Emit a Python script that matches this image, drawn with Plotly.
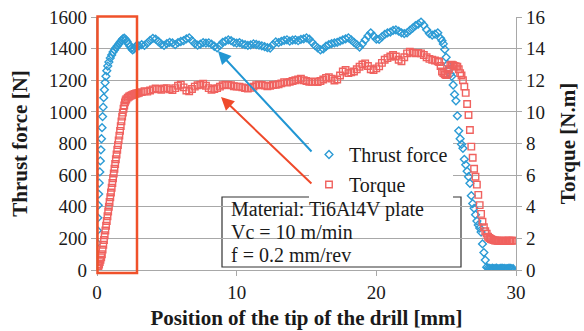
import plotly.graph_objects as go

# ---------------- data ----------------
# Thrust force [N] vs position [mm]
thrust_start_pos = [0, 0.03, 0.06, 0.09, 0.12, 0.16, 0.2, 0.24, 0.28, 0.32, 0.36, 0.4, 0.44, 0.48,
                    0.53, 0.58, 0.64, 0.7, 0.77, 0.85, 0.95, 1.05, 1.15, 1.25, 1.35, 1.45, 1.55,
                    1.65, 1.75, 1.85, 1.95, 2.05, 2.15, 2.25, 2.35, 2.45, 2.55, 2.65, 2.75, 2.85]
thrust_start = [170, 250, 330, 410, 480, 550, 620, 690, 760, 830, 900, 970, 1030, 1090,
                1140, 1185, 1225, 1260, 1290, 1315, 1340, 1360, 1378, 1392, 1405, 1417, 1428,
                1440, 1452, 1462, 1466, 1458, 1445, 1430, 1416, 1402, 1392, 1398, 1410, 1420]
# 3.0 .. 24.6 mm, every 0.2 mm
thrust_mid = [1418, 1425, 1420, 1435, 1452, 1465, 1460, 1445, 1428, 1420,
              1432, 1440, 1436, 1425, 1438, 1445, 1450, 1462, 1468, 1450,
              1432, 1422, 1428, 1438, 1435, 1437, 1428, 1415, 1405, 1420,
              1440, 1448, 1455, 1450, 1440, 1435, 1438, 1430, 1425, 1420,
              1424, 1430, 1426, 1422, 1418, 1412, 1406, 1404, 1425, 1442,
              1438, 1446, 1452, 1456, 1448, 1454, 1456, 1450, 1458, 1462,
              1468, 1460, 1440, 1420, 1405, 1392, 1398, 1415, 1425, 1432,
              1436, 1440, 1448, 1455, 1462, 1468, 1455, 1440, 1425, 1410,
              1430, 1455, 1480, 1500, 1480, 1460, 1458, 1475, 1490, 1500,
              1505, 1515, 1518, 1510, 1500, 1495, 1500, 1515, 1530, 1545,
              1555, 1568, 1548, 1520, 1495, 1486, 1492, 1500, 1465]
# 24.7 .. 29.8 mm, every 0.1 mm
thrust_end = [1450, 1430, 1395, 1345, 1300, 1265, 1240, 1225, 1170, 1110,
              1070, 975, 880, 830, 795, 770, 700, 665, 625, 590,
              548, 470, 420, 390, 350, 310, 285, 265, 240, 165,
              110, 63, 18, 12, 10, 9, 11, 8, 10, 12,
              9, 8, 10, 11, 9, 10, 8, 9, 11, 10, 9, 8]

# Torque [N.m] vs position [mm]
torque_start_pos = [0, 0.05, 0.1, 0.15, 0.2, 0.25, 0.3, 0.35, 0.4, 0.45, 0.5, 0.55, 0.6, 0.65,
                    0.7, 0.75, 0.8, 0.85, 0.9, 0.95, 1.0, 1.05, 1.1, 1.15, 1.2, 1.25, 1.3,
                    1.35, 1.4, 1.45, 1.5, 1.55, 1.6, 1.65, 1.7, 1.75, 1.8, 1.85, 1.9, 1.95,
                    2.0, 2.05, 2.1, 2.2, 2.3, 2.4, 2.5, 2.6, 2.7, 2.8, 2.9]
torque_start = [0.1, 0.15, 0.25, 0.35, 0.5, 0.65, 0.8, 1.0, 1.3, 1.6, 1.9, 2.2, 2.5, 2.8,
                3.1, 3.4, 3.7, 4.0, 4.3, 4.6, 4.9, 5.2, 5.5, 5.8, 6.1, 6.4, 6.7,
                7.0, 7.3, 7.6, 7.9, 8.2, 8.5, 8.8, 9.1, 9.4, 9.7, 9.95, 10.2, 10.4,
                10.6, 10.72, 10.8, 10.9, 10.97, 11.02, 11.06, 11.1, 11.13, 11.16, 11.18]
# 3.0 .. 24.4 mm, every 0.2 mm
torque_mid = [11.2, 11.25, 11.3, 11.28, 11.35, 11.42, 11.48, 11.45, 11.4, 11.48,
              11.5, 11.42, 11.38, 11.5, 11.65, 11.72, 11.55, 11.35, 11.3, 11.45,
              11.6, 11.68, 11.72, 11.78, 11.65, 11.5, 11.4, 11.45, 11.5, 11.6,
              11.68, 11.72, 11.7, 11.68, 11.62, 11.6, 11.6, 11.55, 11.5, 11.48,
              11.52, 11.6, 11.68, 11.72, 11.7, 11.66, 11.62, 11.65, 11.7, 11.72,
              11.75, 11.8, 11.88, 11.85, 11.9, 11.95, 12.0, 12.05, 12.1, 12.0,
              11.95, 11.9, 11.9, 11.92, 11.88, 11.95, 12.05, 12.15, 12.2, 12.1,
              11.98, 12.05, 12.3, 12.55, 12.65, 12.45, 12.5, 12.55, 12.7, 12.85,
              13.0, 13.07, 12.9, 12.7, 12.65, 12.75, 12.88, 13.1, 13.3, 13.4,
              13.5, 13.6, 13.5, 13.3, 13.2, 13.45, 13.7, 13.8, 13.75, 13.7,
              13.72, 13.7, 13.6, 13.45, 13.35, 13.3, 13.25, 13.2]
# 24.5 .. 29.8 mm, every 0.1 mm
torque_end = [13.15, 12.9, 12.55, 12.45, 12.38, 12.33, 12.4, 12.7, 12.95, 12.98,
              12.95, 12.9, 12.88, 12.86, 12.7, 12.45, 12.3, 12.0, 11.6, 11.2,
              10.5, 9.8, 8.85, 7.8, 7.1, 6.4, 5.9, 5.4, 4.75, 4.1,
              3.55, 3.05, 2.7, 2.45, 2.3, 2.1, 2.02, 1.96, 1.92, 1.89,
              1.87, 1.86, 1.85, 1.85, 1.84, 1.85, 1.85, 1.84, 1.85, 1.85,
              1.86, 1.85, 1.85, 1.86]

x_ticks = [0, 10, 20, 30]
info_lines = ["Material: Ti6Al4V plate", "Vc = 10 m/min", "f = 0.2 mm/rev"]

# ---------------- assemble ----------------
def grid(start, step, n):
    return [round(start + step * i, 2) for i in range(n)]

thrust_x = thrust_start_pos + grid(3.0, 0.2, len(thrust_mid)) + grid(24.7, 0.1, len(thrust_end))
thrust_y = thrust_start + thrust_mid + thrust_end
torque_x = torque_start_pos + grid(3.0, 0.2, len(torque_mid)) + grid(24.5, 0.1, len(torque_end))
torque_y = torque_start + torque_mid + torque_end

FONT = "Liberation Serif"
BLUE = "#2c9bd5"
RED = "#f0625f"
GRID = "#a8a8a8"
TXT = "#1a1a1a"

# plot area in pixels (for paper-coordinate decorations)
PL, PR, PT, PB = 97, 516, 17, 270
def px(xp):
    return (xp - PL) / (PR - PL)
def py(yp):
    return (PB - yp) / (PB - PT)

fig = go.Figure()
fig.add_trace(go.Scatter(
    x=thrust_x, y=thrust_y, mode="markers", name="Thrust force",
    marker=dict(symbol="diamond-open", size=6, color=BLUE, line=dict(width=1.4, color=BLUE)),
    legendgroup="a"))
fig.add_trace(go.Scatter(
    x=torque_x, y=torque_y, mode="markers", name="Torque", yaxis="y2",
    marker=dict(symbol="square-open", size=6.5, color=RED, line=dict(width=1.4, color=RED)),
    legendgroup="b"))

# red frame around the entry zone
fig.add_shape(type="rect", xref="paper", yref="paper", x0=px(97.5), x1=px(137), y0=py(273), y1=py(16.5),
              line=dict(color="#f0512a", width=2.5), layer="above")

# info box
fig.add_shape(type="rect", xref="paper", yref="paper",
              x0=px(222), x1=px(461), y0=py(267), y1=py(197),
              line=dict(color="#333333", width=1.2), fillcolor="white", layer="between")
for i, line in enumerate(info_lines):
    fig.add_annotation(xref="paper", yref="paper", x=px(229),
                       y=py(209 + 23 * i), xanchor="left", yanchor="middle",
                       text=line, showarrow=False, font=dict(family=FONT, size=20, color=TXT))

# arrows
fig.add_annotation(x=8.66, y=1385, ax=15.46, ay=740, xref="x", yref="y", axref="x", ayref="y",
                   showarrow=True, arrowhead=2, arrowsize=1.3, arrowwidth=2, arrowcolor="#2196d3", text="")
fig.add_annotation(x=8.88, y=1094, ax=15.46, ay=538, xref="x", yref="y", axref="x", ayref="y",
                   showarrow=True, arrowhead=2, arrowsize=1.3, arrowwidth=2, arrowcolor="#ef4a2b", text="")

fig.update_layout(
    width=584, height=331,
    margin=dict(l=PL, r=584 - PR, t=PT, b=331 - PB),
    paper_bgcolor="white", plot_bgcolor="white",
    font=dict(family=FONT, size=19, color=TXT),
    showlegend=True,
    legend=dict(x=px(309), y=py(135), xanchor="left", yanchor="top",
                bgcolor="white", borderwidth=0, font=dict(family=FONT, size=20, color=TXT),
                tracegroupgap=1, itemwidth=30),
    xaxis=dict(range=[0, 30], tickvals=x_ticks, showgrid=False, zeroline=False, automargin=False,
               showline=True, linecolor=GRID, linewidth=1.3, ticks="outside", ticklen=5,
               tickcolor=GRID, tickfont=dict(size=19),
               title=dict(text="Position of the tip of the drill [mm]", standoff=8,
                          font=dict(family=FONT, size=21, weight="bold"))),
    yaxis=dict(range=[0, 1600], dtick=200, showgrid=True, gridcolor=GRID, gridwidth=1.3,
               zeroline=False, showline=True, linecolor=GRID, linewidth=1.3, ticks="outside",
               ticklen=5, tickcolor=GRID, tickfont=dict(size=19), automargin=False,
               title=dict(text="Thrust force [N]", standoff=15,
                          font=dict(family=FONT, size=21, weight="bold"))),
    yaxis2=dict(range=[0, 16], dtick=2, overlaying="y", side="right", showgrid=False,
                zeroline=False, showline=True, linecolor=GRID, linewidth=1.3, ticks="outside",
                ticklen=5, tickcolor=GRID, tickfont=dict(size=19), automargin=False,
                title=dict(text="Torque [N.m]", standoff=15,
                           font=dict(family=FONT, size=21, weight="bold"))),
)

fig.write_html("out.html")
